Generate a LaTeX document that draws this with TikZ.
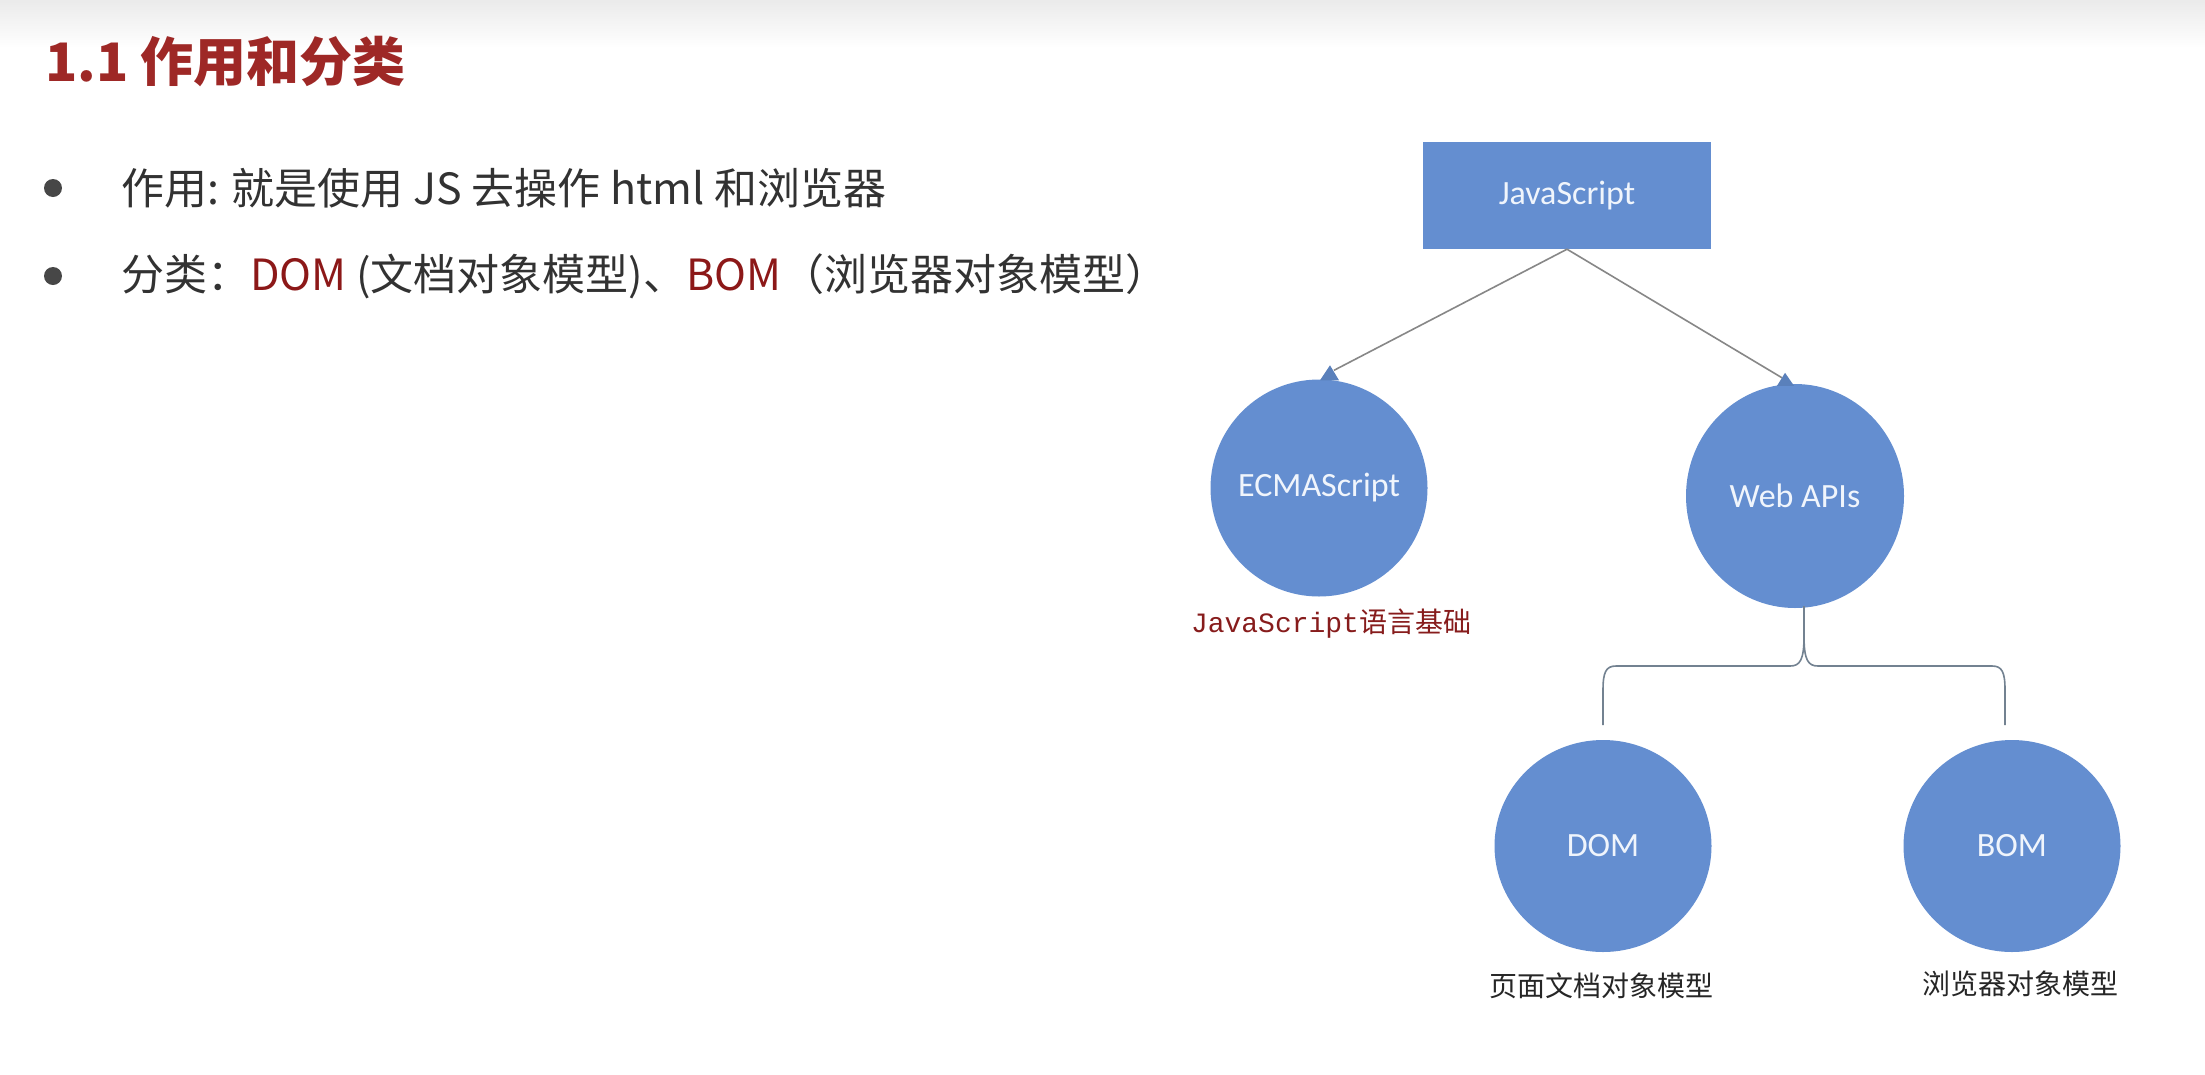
\documentclass[tikz,border=0pt]{standalone}
\usepackage{fontspec}
\setmainfont{Noto Sans CJK SC}
\newfontfamily\cjk{Noto Sans CJK SC}
\newfontfamily\cali{Carlito}
\newfontfamily\monof{Liberation Mono}
\usetikzlibrary{shapes.geometric,calc}
\definecolor{titlered}{RGB}{158,40,38}
\definecolor{kwred}{RGB}{140,24,24}
\definecolor{lblred}{RGB}{135,28,28}
\definecolor{bodytext}{RGB}{50,50,50}
\definecolor{shapeblue}{RGB}{100,142,208}
\definecolor{shapetext}{RGB}{240,245,252}
\definecolor{connGray}{RGB}{135,135,135}
\definecolor{braceGray}{RGB}{115,130,145}
\tikzset{
  bodyline/.style={anchor=west, inner sep=0, text=bodytext, font=\cjk\fontsize{43}{50}\selectfont},
  bulletdot/.style={circle, fill=bodytext!90!white, minimum size=18, inner sep=0},
  jsbox/.style={rectangle, fill=shapeblue, minimum width=288, minimum height=107, inner sep=0,
    text=shapetext, font=\cali\fontsize{34}{40}\selectfont},
  blob/.style={ellipse, fill=shapeblue, inner xsep=-12, inner ysep=0, text=shapetext,
    font=\cali\fontsize{34}{40}\selectfont},
  sublabel/.style={inner sep=0, text=black!85, font=\cjk\fontsize{28}{34}\selectfont},
  conn/.style={draw=connGray, line width=1.6},
  tipfill/.style={fill=shapeblue!90!black},
  bracepath/.style={draw=braceGray, line width=1.6},
}
\begin{document}
\begin{tikzpicture}[x=1pt,y=-1pt]
\useasboundingbox (0,0) rectangle (2205,1074);
\fill[white] (0,0) rectangle (2205,1074);
\shade[top color=black!8, bottom color=white] (0,0) rectangle (2205,48);

% title
\node[anchor=west, inner sep=0, text=titlered, font=\cjk\bfseries\fontsize{53}{60}\selectfont] (title) at (45,62) {1.1 作用和分类};

% bullets
\node[bulletdot] (b1) at (53,188) {};
\node[bodyline] (t1) at (121,188) {作用: 就是使用 JS 去操作 html 和浏览器};
\node[bulletdot] (b2) at (53,276) {};
\node[bodyline] (t2) at (121,276) {分类：\textcolor{kwred}{DOM} (文档对象模型)、\textcolor{kwred}{BOM}（浏览器对象模型）};

% diagram nodes
\node[jsbox] (js) at (1567,195.5) {JavaScript};
\node[blob, minimum width=217, minimum height=217] (ecma) at (1319,488) {ECMAScript};
\node[blob, minimum width=218, minimum height=224] (web) at (1795,496) {Web APIs};
\node[blob, minimum width=217, minimum height=212] (dom) at (1603,846) {DOM};
\node[blob, minimum width=217, minimum height=212] (bom) at (2012,846) {BOM};

% labels
\node[inner sep=0, text=lblred, font=\cjk\fontsize{28}{34}\selectfont] (ecmalbl) at (1331,624) {{\monof JavaScript}语言基础};
\node[sublabel] (domlbl) at (1601,986) {页面文档对象模型};
\node[sublabel] (bomlbl) at (2020,984) {浏览器对象模型};

% arrows
\coordinate (etip) at ($(ecma.north)+(11,-14)$);
\coordinate (wtip) at ($(web.north)+(-10,-11)$);
\draw[conn] (js.south) -- ($(etip)+(4,5)$);
\draw[conn] (js.south) -- ($(wtip)+(-3,5)$);
\fill[tipfill] (etip) -- ++(-10,15) -- ++(19,0) -- cycle;
\fill[tipfill] (wtip) -- ++(-8,13) -- ++(17,0) -- cycle;

% brace
\coordinate (bst) at (1804,606);
\coordinate (bmid) at (1804,636);
\coordinate (bl) at (1603,725);
\coordinate (br) at (2005,725);
\draw[bracepath] (bst) -- (bmid) .. controls (1804,660) and (1800,666) .. (1790,666) -- (1616,666) .. controls (1606,666) and (1603,672) .. (1603,690) -- (bl);
\draw[bracepath] (bmid) .. controls (1804,660) and (1808,666) .. (1818,666) -- (1992,666) .. controls (2002,666) and (2005,672) .. (2005,690) -- (br);
\end{tikzpicture}
\end{document}
